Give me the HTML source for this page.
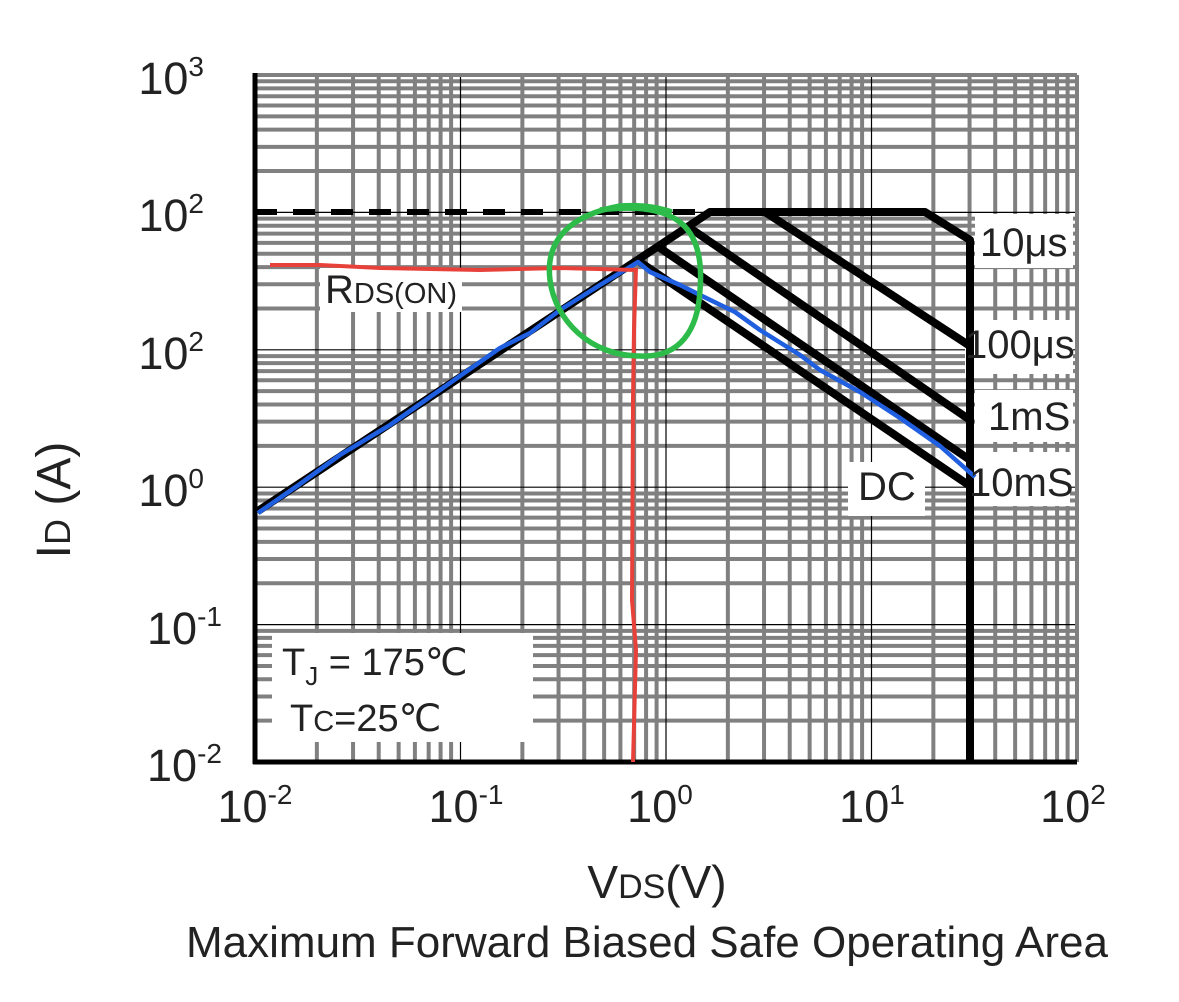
<!DOCTYPE html>
<html><head><meta charset="utf-8"><style>
html,body{margin:0;padding:0;background:#fff;}
svg{display:block;font-family:"Liberation Sans",sans-serif;}
</style></head><body>
<svg id="s" width="1179" height="1002" viewBox="0 0 1179 1002" xmlns="http://www.w3.org/2000/svg">
<rect width="1179" height="1002" fill="#fff"/>
<g id="grid"></g>
<g id="decades" stroke="#000" stroke-width="1.2"></g>
<line x1="255" y1="75" x2="1077" y2="75" stroke="#808080" stroke-width="4"/>
<line x1="1077" y1="75" x2="1077" y2="762" stroke="#808080" stroke-width="4"/>
<line x1="255" y1="73" x2="255" y2="764" stroke="#000" stroke-width="5"/>
<line x1="253" y1="762" x2="1077" y2="762" stroke="#000" stroke-width="5"/>
<rect x="320" y="268" width="142" height="44" fill="#fff"/>
<rect x="975" y="214" width="98" height="54" fill="#fff"/>
<rect x="965" y="320" width="108" height="54" fill="#fff"/>
<rect x="975" y="390" width="98" height="52" fill="#fff"/>
<rect x="970" y="452" width="100" height="54" fill="#fff"/>
<rect x="848" y="462" width="77" height="54" fill="#fff"/>
<rect x="272" y="633" width="261" height="109" fill="#fff"/>
<line x1="255" y1="212" x2="700" y2="212" stroke="#000" stroke-width="6" stroke-dasharray="22,16"/>
<g fill="none" stroke="#000" stroke-width="8" stroke-linejoin="round">
<polyline points="258,511 710,212 925,212 970,240 970,762"/>
<line x1="765" y1="212" x2="970" y2="346"/>
<line x1="690" y1="228" x2="970" y2="420"/>
<line x1="660" y1="248" x2="970" y2="460"/>
<line x1="640" y1="262" x2="970" y2="486"/>
</g>
<polyline fill="none" stroke="#1f5fe0" stroke-width="4.5" stroke-linejoin="round" points="258,513 300,484 340,455 390,425 440,390 500,348 530,333 560,310 600,285 638,262 650,272 680,285 700,295 735,312 760,330 800,355 820,370 860,392 900,418 940,446 975,477"/>
<path fill="none" stroke="#e8413a" stroke-width="4" d="M270,265 L320,265 L380,268 L480,270 L560,268 L637,270 M636,268 L634,330 L633,400 L632,600 L636,650 L633,762"/>
<path fill="none" stroke="#2dbb4a" stroke-width="5.5" d="M600,210 C680,200 705,230 700,290 C698,330 680,358 640,356 C590,356 555,320 550,280 C545,240 570,215 620,206 C650,204 665,210 672,212"/>
<g font-size="40" fill="#222">
<text x="325" y="303">R<tspan font-size="29">DS(ON)</tspan></text>
<text x="980" y="256">10μs</text>
<text x="965" y="358">100μs</text>
<text x="988" y="430">1mS</text>
<text x="969" y="496">10mS</text>
<text x="858" y="500">DC</text>
<text x="282" y="675" font-size="38">T<tspan font-size="26" dy="10">J</tspan><tspan dy="-10"> = 175℃</tspan></text>
<text x="290" y="731" font-size="38">T<tspan font-size="29">C</tspan>=25℃</text>
</g>
<g font-size="45" fill="#222" text-anchor="end">
<text x="204" y="94">10<tspan font-size="28" dy="-18">3</tspan></text>
<text x="204" y="231">10<tspan font-size="28" dy="-18">2</tspan></text>
<text x="204" y="369">10<tspan font-size="28" dy="-18">2</tspan></text>
<text x="204" y="506">10<tspan font-size="28" dy="-18">0</tspan></text>
<text x="222" y="644">10<tspan font-size="28" dy="-18">-1</tspan></text>
<text x="222" y="781">10<tspan font-size="28" dy="-18">-2</tspan></text>
</g>
<g font-size="45" fill="#222" text-anchor="middle">
<text x="255" y="822">10<tspan font-size="28" dy="-18">-2</tspan></text>
<text x="466" y="822">10<tspan font-size="28" dy="-18">-1</tspan></text>
<text x="660" y="822">10<tspan font-size="28" dy="-18">0</tspan></text>
<text x="872" y="822">10<tspan font-size="28" dy="-18">1</tspan></text>
<text x="1073" y="822">10<tspan font-size="28" dy="-18">2</tspan></text>
<text x="657" y="898" font-size="46">V<tspan font-size="34">DS</tspan>(V)</text>
<text x="647" y="957" font-size="44">Maximum Forward Biased Safe Operating Area</text>
<text transform="translate(70,500) rotate(-90)" font-size="48">I<tspan font-size="36">D</tspan> (A)</text>
</g>
<script>
(function(){
var ns="http://www.w3.org/2000/svg",g=document.getElementById("grid"),d=document.getElementById("decades");
var x0=255,x1=1077,y0=762,y1=75;
var dx=(x1-x0)/4,dy=(y0-y1)/5;
function ln(p,a,b,c,e,col,w){var l=document.createElementNS(ns,"line");l.setAttribute("x1",a);l.setAttribute("y1",b);l.setAttribute("x2",c);l.setAttribute("y2",e);l.setAttribute("stroke",col);l.setAttribute("stroke-width",w);p.appendChild(l);}
for(var k=0;k<4;k++)for(var m=2;m<=9;m++){var x=x0+dx*(k+Math.log10(m));ln(g,x,y1,x,y0,"#808080",4);}
for(var k=0;k<5;k++)for(var m=2;m<=9;m++){var y=y0-dy*(k+Math.log10(m));ln(g,x0,y,x1,y,"#808080",4);}
for(var k=1;k<4;k++){var x=x0+dx*k;ln(d,x,y1,x,y0,"#000",1.2);}
for(var k=1;k<5;k++){var y=y0-dy*k;ln(d,x0,y,x1,y,"#000",1.2);}
})();
</script>
</svg>
</body></html>
